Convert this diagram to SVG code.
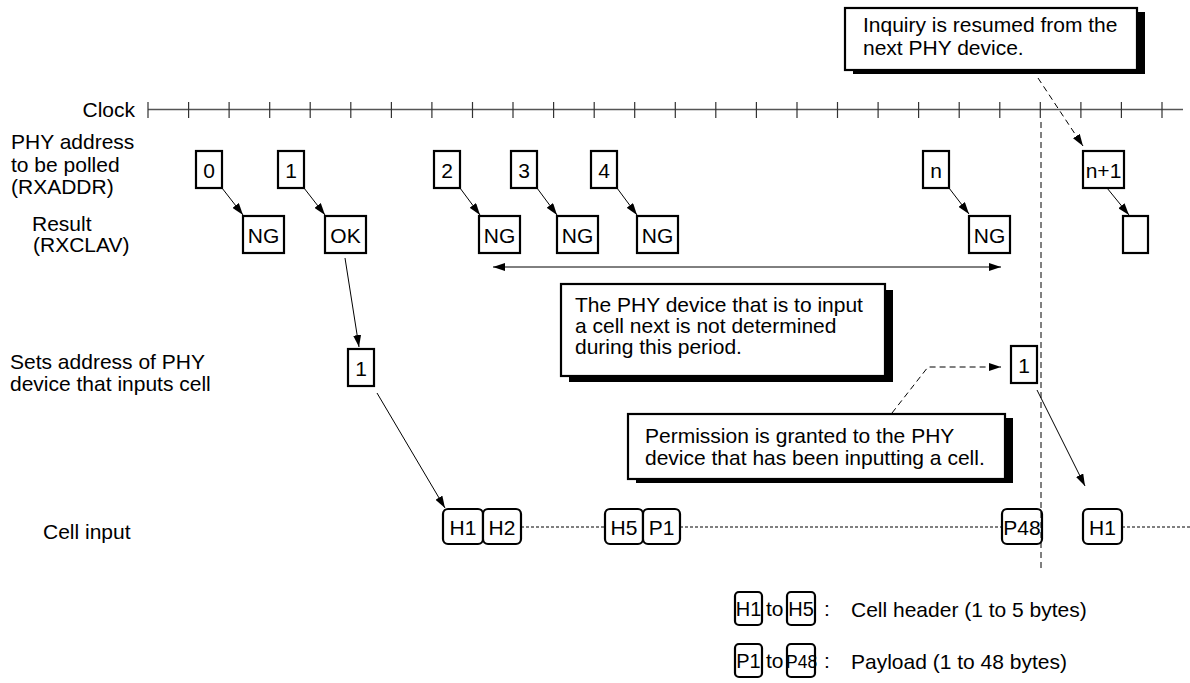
<svg xmlns="http://www.w3.org/2000/svg" width="1190" height="683" viewBox="0 0 1190 683">
<defs>
<marker id="ah" markerUnits="userSpaceOnUse" markerWidth="13" markerHeight="8" refX="12" refY="4" orient="auto-start-reverse"><path d="M0,0 L12,4 L0,8 z" fill="#000"/></marker>
</defs>
<style>
text{font-family:"Liberation Sans",Arial,Helvetica,sans-serif;font-size:21px;fill:#000}
.c{text-anchor:middle}
.lg{font-size:20px}
.bx{fill:#fff;stroke:#000;stroke-width:2.2}
.rb{fill:#fff;stroke:#000;stroke-width:2.2}
.sh{fill:#000}
.ln{stroke:#000;stroke-width:1;fill:none}
.dash{stroke:#000;stroke-width:1;fill:none;stroke-dasharray:6,4}
.dot{stroke:#000;stroke-width:1;fill:none;stroke-dasharray:3,2}
.tk{stroke:#333;stroke-width:1.2}
</style>
<rect width="1190" height="683" fill="#fff"/>
<g id="labels">
<text x="135" y="117" text-anchor="end">Clock</text>
<text x="11" y="149">PHY address</text>
<text x="11" y="171.5">to be polled</text>
<text x="11" y="194">(RXADDR)</text>
<text x="32" y="231">Result</text>
<text x="33" y="252">(RXCLAV)</text>
<text x="10" y="369">Sets address of PHY</text>
<text x="10" y="391">device that inputs cell</text>
<text x="43" y="539">Cell input</text>
</g>
<g id="clock">
<line x1="148" y1="109.5" x2="1183" y2="109.5" stroke="#555" stroke-width="1.5"/>
<path class="tk" d="M148,102V118M188.6,102V118M229.1,102V118M269.7,102V118M310.2,102V118M350.8,102V118M391.4,102V118M431.9,102V118M472.5,102V118M513,102V118M553.6,102V118M594.2,102V118M634.7,102V118M675.3,102V118M715.8,102V118M756.4,102V118M797,102V118M837.5,102V118M878.1,102V118M918.6,102V118M959.2,102V118M999.8,102V118M1040.3,102V118M1080.9,102V118M1121.4,102V118M1162,102V118"/>
</g>
<g id="addr0"><rect class="bx" x="196" y="151" width="26" height="37"/><text class="c" x="209" y="178">0</text></g>
<g id="addr1"><rect class="bx" x="278" y="151" width="26" height="37"/><text class="c" x="291" y="178">1</text></g>
<g id="addr2"><rect class="bx" x="434" y="151" width="26" height="37"/><text class="c" x="447" y="178">2</text></g>
<g id="addr3"><rect class="bx" x="511" y="151" width="26" height="37"/><text class="c" x="524" y="178">3</text></g>
<g id="addr4"><rect class="bx" x="591" y="151" width="26" height="37"/><text class="c" x="604" y="178">4</text></g>
<g id="addrn"><rect class="bx" x="923" y="151" width="26" height="37"/><text class="c" x="936" y="178">n</text></g>
<g id="addrn1"><rect class="bx" x="1083" y="151" width="41" height="37"/><text class="c" x="1103.5" y="178">n+1</text></g>
<g id="res0"><rect class="bx" x="243" y="216" width="41" height="37"/><text class="c" x="263.5" y="243">NG</text></g>
<g id="res1"><rect class="bx" x="325" y="216" width="41" height="37"/><text class="c" x="345.5" y="243">OK</text></g>
<g id="res2"><rect class="bx" x="479" y="216" width="41" height="37"/><text class="c" x="499.5" y="243">NG</text></g>
<g id="res3"><rect class="bx" x="557" y="216" width="41" height="37"/><text class="c" x="577.5" y="243">NG</text></g>
<g id="res4"><rect class="bx" x="637" y="216" width="41" height="37"/><text class="c" x="657.5" y="243">NG</text></g>
<g id="resn"><rect class="bx" x="969" y="216" width="41" height="37"/><text class="c" x="989.5" y="243">NG</text></g>
<g id="resn1"><rect class="bx" x="1123" y="216" width="25" height="37"/></g>
<g id="set1"><rect class="bx" x="348" y="349" width="26" height="37"/><text class="c" x="361" y="376">1</text></g>
<g id="set2"><rect class="bx" x="1011" y="346" width="26" height="37"/><text class="c" x="1024" y="373">1</text></g>
<g id="note-top">
<rect class="sh" x="853" y="12" width="292" height="62"/>
<rect class="bx" x="845" y="8" width="292" height="62"/>
<text x="863" y="32">Inquiry is resumed from the</text>
<text x="863" y="55">next PHY device.</text>
</g>
<g id="note-period">
<rect class="sh" x="569" y="290" width="324" height="92"/>
<rect class="bx" x="561" y="284" width="324" height="92"/>
<text x="575" y="312">The PHY device that is to input</text>
<text x="575" y="333">a cell next is not determined</text>
<text x="575" y="354">during this period.</text>
</g>
<g id="note-perm">
<rect class="sh" x="636" y="418" width="377" height="65"/>
<rect class="bx" x="628" y="414" width="377" height="65"/>
<text x="645" y="443">Permission is granted to the PHY</text>
<text x="645" y="465">device that has been inputting a cell.</text>
</g>
<g id="cells">
<rect class="rb" x="443" y="509" width="40" height="35" rx="5"/><text class="c" x="463" y="535">H1</text>
<rect class="rb" x="483" y="509" width="38" height="35" rx="5"/><text class="c" x="502" y="535">H2</text>
<rect class="rb" x="605" y="509" width="38" height="35" rx="5"/><text class="c" x="624" y="535">H5</text>
<rect class="rb" x="643" y="509" width="37" height="35" rx="5"/><text class="c" x="661.5" y="535">P1</text>
<rect class="rb" x="1002" y="509" width="40" height="35" rx="5"/><text class="c" x="1022" y="535">P48</text>
<rect class="rb" x="1083" y="509" width="39" height="35" rx="5"/><text class="c" x="1102.5" y="535">H1</text>
</g>
<g id="legend">
<rect class="rb" x="735" y="592" width="27" height="33" rx="4"/><text class="c lg" x="748.5" y="616">H1</text>
<text x="766" y="616">to</text>
<rect class="rb" x="787" y="592" width="28" height="33" rx="4"/><text class="c lg" x="801" y="616">H5</text>
<text x="824" y="616">:</text>
<text x="851" y="617">Cell header (1 to 5 bytes)</text>
<rect class="rb" x="735" y="644" width="27" height="33" rx="4"/><text class="c lg" x="748.5" y="668">P1</text>
<text x="766" y="668">to</text>
<rect class="rb" x="787" y="644" width="28" height="33" rx="4"/><text x="786" y="668" style="font-size:17.5px">P48</text>
<text x="824" y="668">:</text>
<text x="851" y="669">Payload (1 to 48 bytes)</text>
</g>
<g id="connectors">
<line class="ln" x1="222" y1="188" x2="243" y2="215" marker-end="url(#ah)"/>
<line class="ln" x1="304" y1="188" x2="325" y2="215" marker-end="url(#ah)"/>
<line class="ln" x1="460" y1="188" x2="480" y2="215" marker-end="url(#ah)"/>
<line class="ln" x1="537" y1="188" x2="557" y2="215" marker-end="url(#ah)"/>
<line class="ln" x1="617" y1="188" x2="637" y2="215" marker-end="url(#ah)"/>
<line class="ln" x1="949" y1="188" x2="969" y2="214" marker-end="url(#ah)"/>
<line class="ln" x1="1107" y1="188" x2="1129" y2="215" marker-end="url(#ah)"/>
<line class="ln" x1="493" y1="267" x2="1001" y2="267" marker-start="url(#ah)" marker-end="url(#ah)"/>
<line class="ln" x1="345" y1="258" x2="359" y2="347" marker-end="url(#ah)"/>
<line class="ln" x1="377" y1="393" x2="445" y2="508" marker-end="url(#ah)"/>
<line class="ln" x1="1037" y1="390" x2="1085" y2="486" marker-end="url(#ah)"/>
<line class="dash" x1="1038" y1="78" x2="1083" y2="146" marker-end="url(#ah)"/>
<polyline class="dash" points="892,413 928,367 1001,367" marker-end="url(#ah)"/>
<line class="dash" x1="1041" y1="122" x2="1041" y2="568"/>
<line class="dot" x1="521" y1="527" x2="605" y2="527"/>
<line class="dot" x1="680" y1="527" x2="1002" y2="527"/>
<line class="dot" x1="1122" y1="527" x2="1190" y2="527"/>
</g>
</svg>
